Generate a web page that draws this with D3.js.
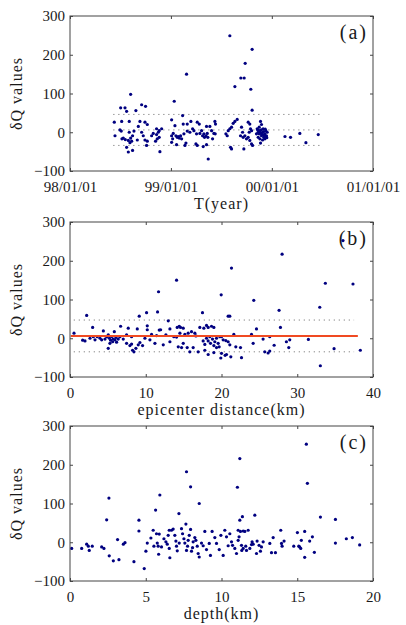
<!DOCTYPE html>
<html>
<head>
<meta charset="utf-8">
<script src="https://cdn.jsdelivr.net/npm/d3@7"></script>
<style>
  body { margin: 0; background: #fff; }
  text { font-family: "Liberation Serif", "Times New Roman", serif; fill: #1a1a1a; }
</style>
</head>
<body>
<script>
// tick labels
const dqTicks = [-100, 0, 100, 200, 300];
const timeTicks = ['98/01/01', '99/01/01', '00/01/01', '01/01/01'];
const distTicks = [0, 10, 20, 30, 40];
const depthTicks = [0, 5, 10, 15, 20];

// panel (a): [decimal year, dQ]
const timePoints = [
  [1999.584,249],[1999.155,150],[1999.634,118],[1999.033,80],[1998.601,98],[1998.710,71],[1998.749,67],
  [1998.502,63],[1998.545,63],[1998.561,54],[1998.653,56],[1999.116,43],[1998.439,26],[1998.512,28],
  [1998.587,28],[1998.693,28],[1998.743,26],[1998.766,20],[1998.677,15],[1999.007,32],[1999.040,17],
  [1999.122,21],[1999.162,21],[1999.198,28],[1999.261,26],[1999.281,21],[1999.353,15],[1999.436,28],
  [1999.442,21],[1998.495,6],[1998.508,3],[1998.446,-9],[1998.634,3],[1998.587,0],[1998.515,-17],
  [1998.528,-15],[1998.548,-19],[1998.578,-21],[1998.601,-15],[1998.620,-9],[1998.611,-23],[1998.594,-27],
  [1998.561,-39],[1998.578,-51],[1998.620,-47],[1998.667,-20],[1998.726,-9],[1998.743,-20],[1998.766,-23],
  [1998.759,-34],[1998.710,0],[1998.825,-3],[1998.809,-9],[1998.858,9],[1998.884,4],[1998.908,9],
  [1998.875,0],[1998.848,-23],[1998.865,-17],[1998.884,-13],[1998.858,-6],[1998.891,-50],[1999.007,-9],
  [1999.023,-3],[1999.017,-17],[1999.007,-26],[1999.050,-9],[1999.063,-13],[1999.073,-11],[1999.083,-15],
  [1999.096,-9],[1999.106,-17],[1999.056,-32],[1999.139,-34],[1999.149,-28],[1999.129,-4],[1999.162,3],
  [1999.188,0],[1999.215,9],[1999.228,4],[1999.254,-4],[1999.287,-3],[1999.304,4],[1999.327,-4],
  [1999.347,-9],[1999.360,-3],[1999.248,-30],[1999.261,-34],[1999.314,-9],[1999.333,-13],[1999.366,-13],
  [1999.353,-32],[1999.320,-37],[1999.370,-69],[1999.386,15],[1999.403,4],[1999.426,-3],[1999.413,-17],
  [1999.439,-4],[1999.545,-4],[1999.558,-9],[1999.591,-39],[1999.601,-43],[1999.568,4],[1999.584,9],
  [1999.601,13],[1999.617,23],[1999.634,28],[1999.657,33],
  [1999.805,214],[1999.736,178],[1999.693,140],[1999.726,140],[1999.792,111],[1999.805,57],
  [1999.700,13],[1999.710,0],[1999.690,-9],[1999.716,-13],[1999.733,-9],[1999.723,-43],[1999.766,26],
  [1999.782,21],[1999.789,9],[1999.776,0],[1999.799,4],[1999.749,-17],[1999.766,-13],[1999.782,-21],
  [1999.799,-30],[1999.809,-34],[1999.888,28],[1999.898,20],
  [1999.855,9],[1999.865,0],[1999.875,-4],[1999.881,4],[1999.898,-9],[1999.908,0],[1999.914,9],
  [1999.921,-13],[1999.931,-4],[1999.941,4],[1999.947,-9],[1999.865,-13],[1999.881,-17],[1999.908,-20],
  [1999.931,-17],[1999.848,-4],[1999.954,0],[1999.875,13],[1999.888,-28],[1999.885,-2],[1999.895,6],
  [1999.918,2],[1999.925,-7],[1999.935,8],[1999.902,-5],[1999.940,-12],[1999.860,6],[1999.950,-14],
  [2000.130,-11],[2000.185,-13],[2000.277,-3],[2000.337,-27],[2000.459,-6]
];

// panel (b): [epicenter distance km, dQ]
const distPoints = [
  [14.07,150],[11.69,120],[21.32,181],[19.96,112],[2.20,59],[9.14,57],[10.11,66],[11.56,68],[17.49,66],
  [20.88,57],[21.10,57],[12.97,45],[2.99,28],[4.40,19],[5.85,17],[6.68,31],[7.69,26],[8.88,24],[10.20,32],
  [10.20,22],[10.77,10],[11.43,7],[11.78,21],[11.96,22],[12.66,9],[13.19,24],[14.15,28],[14.42,31],
  [14.59,28],[14.95,26],[13.71,4],[14.07,3],[14.51,13],[15.16,10],[15.60,13],[16.04,17],[16.48,13],
  [17.14,28],[17.67,26],[18.02,33],[18.24,28],[18.68,31],[18.99,28],[16.62,6],
  [18.02,0],[18.24,-7],[18.46,4],[18.55,-13],[18.81,-2],[18.99,-19],[19.12,-9],[19.34,0],[19.56,-13],
  [19.69,-22],[17.80,-16],[17.58,-7],[19.78,4],[20.00,-39],[19.91,-51],[21.23,-48],[20.48,-44],
  [16.92,-35],[17.80,-31],[18.24,-42],[18.99,-37],[19.34,-24],[15.47,-24],[15.82,-35],[16.26,-24],
  [14.29,-22],[14.73,-24],[14.95,-13],[12.31,-17],[13.19,-9],[8.26,-31],[8.44,-35],[8.70,-26],
  [7.47,-13],[7.91,-19],[8.13,-15],[9.01,-17],[9.23,-11],[9.58,-19],[5.05,-26],[1.67,-5],[1.98,-7],
  [2.64,0],[3.08,4],[0.53,13],[3.96,0],[4.18,-4],[4.62,-2],[4.84,4],[5.19,0],[5.36,-5],[5.49,4],
  [5.63,-9],[5.71,-2],[5.93,-4],[6.07,2],[6.15,-10],[6.37,-2],[5.27,-13],[5.05,9],[6.59,4],[7.03,-2],
  [3.60,4],[3.30,-4],[10.55,-4],[11.21,-13],[9.89,0],[7.47,9],[8.13,4],
  [36.04,252],[28.00,217],[33.71,142],[37.36,140],[24.26,98],[27.60,72],[32.97,80],[27.78,28],
  [24.62,24],[21.63,10],[23.96,10],[24.18,-13],[25.49,-2],[26.37,4],[28.57,-9],[29.01,-4],[28.88,-24],
  [31.47,-3],[25.71,-35],[26.15,-38],[26.37,-33],[26.95,-18],[33.05,-71],[34.86,-27],[38.33,-31],
  [20.00,4],[20.22,-4],[20.57,-6],[20.88,-9],[21.10,-17],[21.89,-22],[22.51,-24],[22.64,-50],[20.66,-42]
];

// panel (c): [depth km, dQ]
const depthPoints = [
  [7.69,182],[7.96,143],[5.93,122],[5.65,83],[8.53,100],[2.57,114],[2.42,58],[4.55,57],[4.55,29],
  [7.19,74],[0.11,-16],[0.77,-16],[1.10,-5],[1.21,-10],[1.27,-21],[1.47,-10],[2.09,-12],[2.24,-16],
  [2.59,-35],[2.86,-48],[3.14,7],[3.23,-45],[3.52,-5],[3.63,-1],[4.22,-50],[4.90,-68],[5.01,-23],
  [5.10,-2],[5.34,11],[5.49,31],[5.54,-10],[5.76,-2],[5.82,-10],[5.85,-31],[5.71,22],[5.89,21],
  [6.04,-12],[6.20,9],[6.33,1],[6.42,-5],[6.55,-16],[6.59,-40],[6.48,18],[6.55,31],[6.70,31],[6.81,34],
  [6.92,18],[6.99,3],[7.03,-10],[7.08,-22],[7.21,-2],[7.36,35],[7.43,22],[7.52,9],[7.58,-2],[7.65,47],
  [7.69,-21],[7.76,-10],[7.80,5],[7.87,18],[7.96,33],[8.02,-23],[8.09,-14],[8.13,1],[8.24,12],[8.31,5],
  [8.40,-10],[8.46,-29],[8.53,-38],[8.68,-2],[8.79,-9],[8.90,28],[9.01,-19],[9.19,-3],[9.27,-34],
  [9.38,28],[9.56,12],[9.67,-3],[9.85,-19],[9.96,18],[10.11,-34],[10.22,31],[10.33,14],[10.44,-9],
  [10.55,22],[10.66,1],[10.73,-8],[10.88,-16],[10.99,-29],[11.10,31],[11.16,14],[11.21,216],[11.05,142],
  [15.60,253],[15.67,152],[16.53,65],[17.52,59],[12.20,70],[11.21,57],[11.38,66],[17.52,-2],[18.24,9],
  [18.64,12],[19.12,-7],[15.01,25],[15.49,28],[15.16,-12],[15.23,-16],[15.10,-10],[15.49,-39],[15.27,5],
  [15.82,3],[16.00,14],[16.13,-26],[14.77,-10],[13.91,31],[13.96,-3],[14.00,-10],[14.13,3],[13.41,12],
  [13.30,-27],[13.56,-27],[13.19,-3],[12.35,3],[12.48,-8],[12.64,-12],[12.75,1],[12.31,-29],[12.57,-23],
  [12.02,1],[11.87,-16],[11.98,-6],[12.09,-5],[11.65,-21],[11.60,-10],[11.43,-16],[11.32,-8],[11.34,-21],
  [11.10,5],[11.25,28],[11.43,29],[11.54,28],[11.76,31]
];

// dotted band levels and mean line
const bandA = [46, 6, -34];
const bandAYears = [1998.43, 2000.47];
const bandB = [47, -35];
const meanB = 6;
const bandBKm = [0.5, 37.5];

const width = 406, height = 625;
const left = 70, plotW = 303, plotH = 155;

const svg = d3.select('body').append('svg')
  .attr('width', width)
  .attr('height', height);

const yearToDate = (v) => {
  const yr = Math.floor(v);
  const t0 = Date.UTC(yr, 0, 1), t1 = Date.UTC(yr + 1, 0, 1);
  return new Date(t0 + (v - yr) * (t1 - t0));
};

const drawPanel = (o) => {
  const g = svg.append('g').attr('transform', `translate(${left},${o.top})`);
  const x = o.x.range([0, plotW]);
  const y = d3.scaleLinear().domain([-100, 300]).range([plotH, 0]);

  // dotted reference lines
  (o.dotted || []).forEach(v => {
    g.append('line')
      .attr('x1', x(o.span[0])).attr('x2', x(o.span[1]))
      .attr('y1', y(v)).attr('y2', y(v))
      .attr('stroke', '#666').attr('stroke-width', 1)
      .attr('stroke-dasharray', '1,4');
  });

  g.append('g')
    .selectAll('circle')
    .data(o.points)
    .join('circle')
    .attr('cx', d => x(o.xv(d[0])))
    .attr('cy', d => y(d[1]))
    .attr('r', 1.6)
    .attr('fill', '#000080');

  if (o.mean !== undefined) {
    g.append('line')
      .attr('x1', x(0.1)).attr('x2', x(38))
      .attr('y1', y(o.mean)).attr('y2', y(o.mean))
      .attr('stroke', '#f04a22').attr('stroke-width', 2);
  }

  g.append('rect')
    .attr('width', plotW).attr('height', plotH)
    .attr('fill', 'none').attr('stroke', '#444');

  const styleAxis = sel => {
    sel.attr('font-size', 15).attr('color', '#444');
    sel.select('.domain').remove();
  };

  g.append('g')
    .call(d3.axisLeft(y).tickValues(dqTicks).tickSize(-3).tickPadding(5))
    .call(styleAxis);
  g.append('g')
    .attr('transform', `translate(${plotW},0)`)
    .call(d3.axisRight(y).tickValues(dqTicks).tickSize(-3).tickFormat(''))
    .call(styleAxis);
  g.append('g')
    .attr('transform', `translate(0,${plotH})`)
    .call(d3.axisBottom(x).tickValues(o.ticks).tickFormat(o.fmt).tickSize(-3).tickPadding(10.5))
    .call(styleAxis);
  g.append('g')
    .call(d3.axisTop(x).tickValues(o.ticks).tickFormat('').tickSize(-3))
    .call(styleAxis);

  g.append('text')
    .attr('x', plotW / 2).attr('y', plotH + 38)
    .attr('text-anchor', 'middle')
    .attr('font-size', 16)
    .attr('letter-spacing', 1)
    .text(o.xLabel);

  g.append('text')
    .attr('transform', `translate(${22 - left},${plotH / 2}) rotate(-90)`)
    .attr('text-anchor', 'middle')
    .attr('font-size', 16)
    .attr('letter-spacing', 1)
    .text('δQ values');

  g.append('text')
    .attr('x', plotW - 5).attr('y', 23)
    .attr('text-anchor', 'end')
    .attr('font-size', 20)
    .attr('letter-spacing', 2)
    .text(o.tag);
};

const parseTick = d3.utcParse('%y/%m/%d');

drawPanel({
  top: 16,
  x: d3.scaleUtc().domain([parseTick(timeTicks[0]), parseTick(timeTicks[timeTicks.length - 1])]),
  xv: yearToDate,
  ticks: timeTicks.map(parseTick),
  fmt: d3.utcFormat('%y/%m/%d'),
  points: timePoints,
  dotted: bandA,
  span: bandAYears.map(yearToDate),
  xLabel: 'T(year)',
  tag: '(a)'
});

drawPanel({
  top: 222,
  x: d3.scaleLinear().domain([0, 40]),
  xv: d => d,
  ticks: distTicks,
  fmt: d3.format('d'),
  points: distPoints,
  dotted: bandB,
  span: bandBKm,
  mean: meanB,
  xLabel: 'epicenter distance(km)',
  tag: '(b)'
});

drawPanel({
  top: 426,
  x: d3.scaleLinear().domain([0, 20]),
  xv: d => d,
  ticks: depthTicks,
  fmt: d3.format('d'),
  points: depthPoints,
  xLabel: 'depth(km)',
  tag: '(c)'
});
</script>
</body>
</html>
